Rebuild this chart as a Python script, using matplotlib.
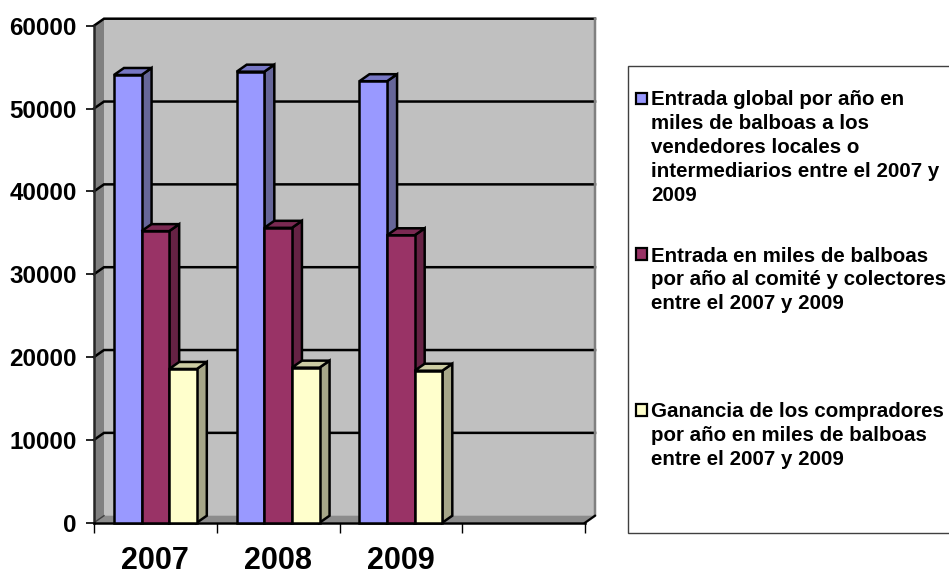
import matplotlib.pyplot as plt
from matplotlib.patches import Polygon, Rectangle

W, H = 949, 571

years = ["2007", "2008", "2009"]
entrada_global = [54050, 54450, 53300]
entrada_comite = [35200, 35600, 34700]
ganancia = [18560, 18720, 18350]
y_ticks = [0, 10000, 20000, 30000, 40000, 50000, 60000]

legend_labels = [
    "Entrada global por año en\nmiles de balboas a los\nvendedores locales o\nintermediarios entre el 2007 y\n2009",
    "Entrada en miles de balboas\npor año al comité y colectores\nentre el 2007 y 2009",
    "Ganancia de los compradores\npor año en miles de balboas\nentre el 2007 y 2009",
]

# front, side and top face colours for each series
face_colors = [
    ("#9999ff", "#666699", "#7777c4"),
    ("#993366", "#662244", "#7a2952"),
    ("#ffffcc", "#a6a688", "#cccca3"),
]

plt.rcParams["font.family"] = ["Liberation Sans", "DejaVu Sans"]
plt.rcParams["font.weight"] = "bold"

fig = plt.figure(figsize=(W / 100, H / 100), dpi=100)
left, right, top, bottom = 94, 585, 25.7, 522.7
ax = fig.add_axes([left / W, 1 - bottom / H, (right - left) / W, (bottom - top) / H])
ax.set_xlim(0, 4)
ax.set_ylim(0, 60000)
for spine in ax.spines.values():
    spine.set_visible(False)
ax.patch.set_visible(False)

# depth of the fake 3D box, in data units
dx = 10 / ((right - left) / 4)
dy = 7 / ((bottom - top) / 60000)
line_w = 1.8


def face(points, color, zorder):
    ax.add_patch(Polygon(points, closed=True, facecolor=color, edgecolor="black",
                         linewidth=line_w, joinstyle="miter", clip_on=False, zorder=zorder))


# walls and floor
ax.add_patch(Rectangle((dx, dy), 4, 60000, facecolor="#c0c0c0", edgecolor="none", clip_on=False, zorder=1))
ax.add_patch(Polygon([(0, 0), (dx, dy), (dx, 60000 + dy), (0, 60000)], facecolor="#808080",
                     edgecolor="none", clip_on=False, zorder=1))
ax.add_patch(Polygon([(0, 0), (4, 0), (4 + dx, dy), (dx, dy)], facecolor="#8c8c8c",
                     edgecolor="none", clip_on=False, zorder=1))

# gridlines run across the side wall and then the back wall
for v in y_ticks[1:]:
    ax.plot([0, dx, 4 + dx], [v, v + dy, v + dy], color="black", lw=line_w, clip_on=False, zorder=2,
            solid_joinstyle="miter")
ax.plot([4 + dx, 4 + dx, 4], [60000 + dy, dy, 0], color="#808080", lw=line_w, clip_on=False, zorder=2)
ax.plot([0, 0], [0, 60000], color="#262626", lw=line_w, clip_on=False, zorder=3)
ax.plot([0, dx], [0, dy], color="#404040", lw=1, clip_on=False, zorder=2)
ax.plot([0, 4], [0, 0], color="black", lw=line_w, clip_on=False, zorder=3)
ax.plot([4, 4 + dx], [0, dy], color="black", lw=1.5, clip_on=False, zorder=3)

# bars, left to right so each front face covers the side of the previous one
bar_w = 0.225
series = [entrada_global, entrada_comite, ganancia]
z = 4
for i in range(len(years)):
    for j, values in enumerate(series):
        x0 = i + 0.5 + (j - 1.5) * bar_w
        x1 = x0 + bar_w
        v = values[i]
        front, side, roof = face_colors[j]
        face([(x1, 0), (x1 + dx, dy), (x1 + dx, v + dy), (x1, v)], side, z)
        face([(x0, v), (x1, v), (x1 + dx, v + dy), (x0 + dx, v + dy)], roof, z)
        face([(x0, 0), (x1, 0), (x1, v), (x0, v)], front, z + 1)
        z += 2

ax.set_xticks(range(5))
ax.set_xticklabels([])
ax.set_yticks(y_ticks)
ax.set_yticklabels([str(v) for v in y_ticks], fontsize=17.4, fontweight="bold")
ax.tick_params(axis="x", length=7, width=1, direction="out", color="black")
ax.tick_params(axis="y", length=5.5, width=1.2, direction="out", pad=7, color="black")
for i, year in enumerate(years):
    ax.annotate(year, (i + 0.5, 0), xytext=(0, -33.5), textcoords="offset points",
                ha="center", va="baseline", fontsize=22, fontweight="bold", annotation_clip=False)

# legend box, it runs off the right side of the figure
fig.add_artist(Rectangle((628 / W, 1 - 533 / H), 330 / W, (533 - 66) / H, transform=fig.transFigure,
                         facecolor="white", edgecolor="#404040", linewidth=1))
legend_tops = [90.5, 246.5, 402]
for label, y_top, colors in zip(legend_labels, legend_tops, face_colors):
    fig.add_artist(Rectangle((636 / W, 1 - (y_top + 13.5) / H), 10.5 / W, 11.5 / H, transform=fig.transFigure,
                             facecolor=colors[0], edgecolor="black", linewidth=1.6))
    fig.text(651 / W, 1 - y_top / H, label, ha="left", va="top", fontsize=14.8, fontweight="bold",
             linespacing=1.32, color="black")

fig.savefig("out.png", dpi=100)
plt.close(fig)
